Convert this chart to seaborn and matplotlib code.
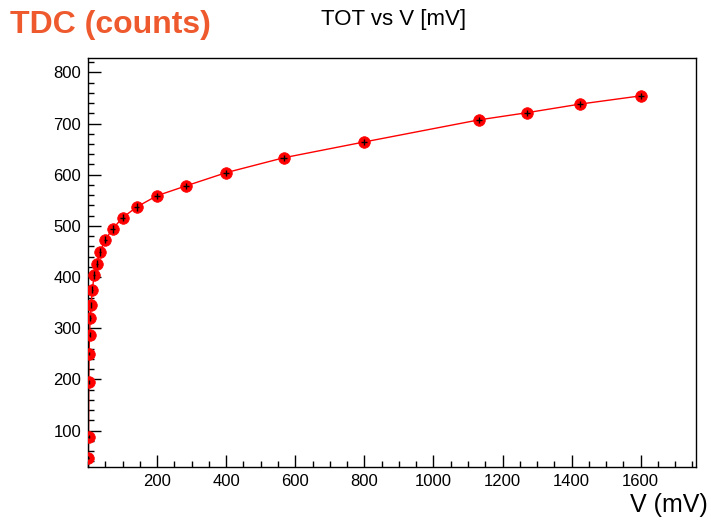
import pandas as pd
import matplotlib
matplotlib.use("Agg")
import matplotlib.pyplot as plt
from matplotlib.ticker import MultipleLocator
import seaborn as sns

# data
voltage_mv = [1.1, 1.56, 2.2, 3.1, 4.4, 6.25, 8.8, 12.5, 17.7, 25, 35, 50, 71,
              100, 141, 200, 283, 400, 566, 800, 1131, 1270, 1425, 1600]
tdc_counts = [47, 88, 195, 250, 287, 320, 346, 375, 404, 426, 449, 473, 494,
              516, 537, 559, 578, 604, 633, 664, 707, 721, 738, 754]
volt_err = [0.5, 0.5, 0.5, 0.5, 1, 1, 1, 2, 2, 3, 4, 5, 6,
            7, 8, 9, 9, 9, 9, 9, 9, 9, 9, 9]
tdc_err = [3, 3, 3, 3, 5, 6, 6, 7, 7, 7, 7, 7, 7,
           7, 7, 6, 6, 6, 6, 6, 6, 6, 6, 6]

df = pd.DataFrame({"V": voltage_mv, "TDC": tdc_counts})

sns.set_style("ticks")
plt.rcParams['font.family'] = ['Liberation Sans', 'DejaVu Sans']
plt.rcParams['xtick.direction'] = 'in'
plt.rcParams['ytick.direction'] = 'in'
plt.rcParams['text.color'] = 'black'
plt.rcParams['xtick.color'] = 'black'
plt.rcParams['ytick.color'] = 'black'

fig = plt.figure(figsize=(7.11, 5.2), dpi=100)
ax = fig.add_axes([0.1238, 0.1019, 0.855, 0.7866])

sns.lineplot(data=df, x="V", y="TDC", ax=ax, color="red", lw=1,
             estimator=None, zorder=2)
sns.scatterplot(data=df, x="V", y="TDC", ax=ax, color="red", edgecolor="red",
                s=70, linewidth=0.5, zorder=3)
ax.errorbar(voltage_mv, tdc_counts, xerr=volt_err, yerr=tdc_err, fmt='none',
            ecolor='black', elinewidth=1, capsize=0, zorder=4)

ax.set_xlim(0, 1760)
ax.set_ylim(29, 828)
ax.xaxis.set_minor_locator(MultipleLocator(50))
ax.yaxis.set_minor_locator(MultipleLocator(20))
ax.set_xticks([200, 400, 600, 800, 1000, 1200, 1400, 1600])
ax.set_yticks([100, 200, 300, 400, 500, 600, 700, 800])
ax.tick_params(which='major', length=9, width=1, labelsize=12, pad=5,
               colors='black')
ax.tick_params(which='minor', length=4.5, width=1)
ax.tick_params(top=False, right=False, which='both')
for s in ax.spines.values():
    s.set_visible(True)
    s.set_linewidth(1)
    s.set_color('black')

ax.set_xlabel("")
ax.set_ylabel("")

fig.text(0.553, 0.962, "TOT vs V [mV]", ha='center', va='center', fontsize=16)
fig.text(0.014, 0.952, "TDC (counts)", ha='left', va='center', fontsize=23,
         fontweight='bold', color='#EE5A2E')
fig.text(0.995, 0.028, "V (mV)", ha='right', va='center', fontsize=18)

fig.savefig("out.png", dpi=100)
